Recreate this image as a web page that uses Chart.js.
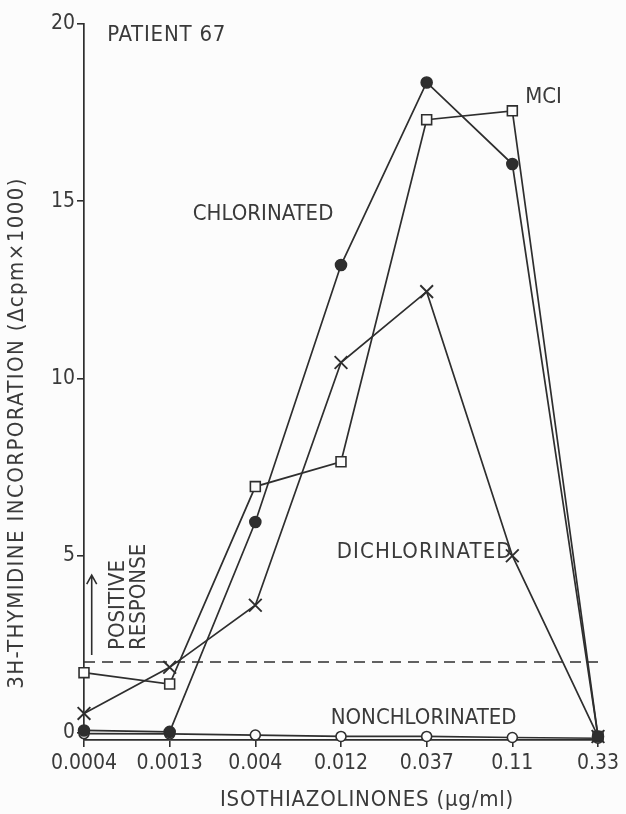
<!DOCTYPE html>
<html><head><meta charset="utf-8">
<script src="https://cdn.jsdelivr.net/npm/chart.js@4.4.0/dist/chart.umd.min.js"></script>
<style>html,body{margin:0;padding:0;background:#fcfcfc}#wrap{width:626px;height:814px;position:relative}</style>
</head><body><div id="wrap"><canvas id="c"></canvas></div>
<script>
const concentrations = ['0.0004','0.0013','0.004','0.012','0.037','0.11','0.33'];
const chlorinated = [0.07, 0.03, 5.95, 13.2, 18.35, 16.05, -0.1];
const mci = [1.7, 1.38, 6.95, 7.65, 17.3, 17.55, -0.1];
const dichlorinated = [0.55, 1.85, 3.6, 10.45, 12.45, 5.0, -0.1];
const nonchlorinated = [-0.02, -0.03, -0.06, -0.1, -0.1, -0.13, -0.15];
const positiveResponse = [2, 2, 2, 2, 2, 2, 2];
const yTicks = [0, 5, 10, 15, 20];

const INK = '#2e2e2e';
const TXT = '#3a3a3a';
const FONT = '"DejaVu Sans Condensed", "DejaVu Sans", sans-serif';

const annot = {
  id: 'annot',
  afterDraw(chart) {
    const {ctx, scales: {x, y}} = chart;
    const px = v => x.getPixelForValue(v);
    const py = v => y.getPixelForValue(v);
    ctx.save();
    ctx.fillStyle = TXT;
    ctx.font = '22px ' + FONT;
    ctx.textBaseline = 'middle';
    ctx.textAlign = 'left';
    const labels = [
      ['PATIENT 67', 0.27, 19.68, 0.8],
      ['CHLORINATED', 1.27, 14.64, 0],
      ['MCI', 5.15, 17.94, 0],
      ['DICHLORINATED', 2.95, 5.1, 1.1],
      ['NONCHLORINATED', 2.88, 0.42, 0]
    ];
    labels.forEach(([t, xv, yv, ls]) => { ctx.letterSpacing = ls + 'px'; ctx.fillText(t, px(xv), py(yv)); });
    ctx.letterSpacing = '0px';
    // rotated "POSITIVE RESPONSE"
    [['POSITIVE', 0.4], ['RESPONSE', 0.64]].forEach(([t, xv]) => {
      ctx.save();
      ctx.translate(px(xv), py(2.34));
      ctx.rotate(-Math.PI / 2);
      ctx.fillText(t, 0, 0);
      ctx.restore();
    });
    // arrow
    ctx.strokeStyle = INK;
    ctx.lineWidth = 1.6;
    const ax = px(0.09), ay0 = py(2.2), ay1 = py(4.45);
    ctx.beginPath();
    ctx.moveTo(ax, ay0); ctx.lineTo(ax, ay1);
    ctx.moveTo(ax - 5, ay1 + 9); ctx.lineTo(ax, ay1); ctx.lineTo(ax + 5, ay1 + 9);
    ctx.stroke();
    // axis titles
    ctx.textAlign = 'center';
    ctx.font = '22px ' + FONT;
    ctx.letterSpacing = '0.8px';
    ctx.fillText('ISOTHIAZOLINONES (µg/ml)', (x.left + x.right) / 2 + 26, 800);
    ctx.save();
    ctx.translate(17, (y.top + y.bottom) / 2 + 51);
    ctx.rotate(-Math.PI / 2);
    ctx.letterSpacing = '1.4px';
    ctx.fillText('3H-THYMIDINE INCORPORATION (\u0394cpm\u00d71000)', 0, 0);
    ctx.restore();
    ctx.restore();
  }
};

const bgPlugin = {
  id: 'bg',
  beforeDraw(chart) {
    const {ctx, width, height} = chart;
    ctx.save(); ctx.fillStyle = '#fcfcfc'; ctx.fillRect(0, 0, width, height); ctx.restore();
  }
};

const common = {borderColor: INK, borderWidth: 1.7, tension: 0, clip: false, pointBorderWidth: 1.6};

new Chart(document.getElementById('c'), {
  type: 'line',
  data: {
    labels: concentrations,
    datasets: [
      {...common, label: 'Chlorinated', data: chlorinated, pointStyle: 'circle', pointRadius: 5.5, pointBackgroundColor: INK, pointBorderColor: INK},
      {...common, label: 'Nonchlorinated', data: nonchlorinated, pointStyle: 'circle', pointRadius: 5, pointBackgroundColor: '#fcfcfc', pointBorderColor: INK},
      {...common, label: 'MCI', data: mci, pointStyle: 'rect', pointRadius: 7, pointBackgroundColor: '#fcfcfc', pointBorderColor: INK},
      {...common, label: 'Dichlorinated', data: dichlorinated, pointStyle: 'crossRot', pointRadius: 9, pointBorderColor: INK, pointBorderWidth: 1.9},
      {...common, label: 'Positive response', data: positiveResponse, pointRadius: 0, borderWidth: 1.4, borderDash: [11, 7]}
    ]
  },
  options: {
    responsive: true,
    maintainAspectRatio: false,
    animation: false,
    devicePixelRatio: 1,
    layout: {padding: {top: 24, right: 28, left: 0, bottom: 0}},
    plugins: {legend: {display: false}, tooltip: {enabled: false}},
    scales: {
      x: {
        type: 'category',
        offset: false,
        grid: {drawOnChartArea: false, drawTicks: true, tickLength: 7, color: INK, lineWidth: 1.6},
        border: {display: true, color: INK, width: 1.7},
        ticks: {color: TXT, font: {family: FONT, size: 21}, padding: 4, maxRotation: 0, autoSkip: false},
        afterFit: s => { s.height = 74; }
      },
      y: {
        min: -0.2,
        max: 20,
        grid: {drawOnChartArea: false, drawTicks: true, tickLength: 7, color: INK, lineWidth: 1.6},
        border: {display: true, color: INK, width: 1.7},
        ticks: {color: TXT, font: {family: FONT, size: 21}, padding: 2},
        afterBuildTicks: s => { s.ticks = yTicks.map(v => ({value: v})); },
        afterFit: s => { s.width = 84; }
      }
    }
  },
  plugins: [bgPlugin, annot]
});
</script>
</body></html>
